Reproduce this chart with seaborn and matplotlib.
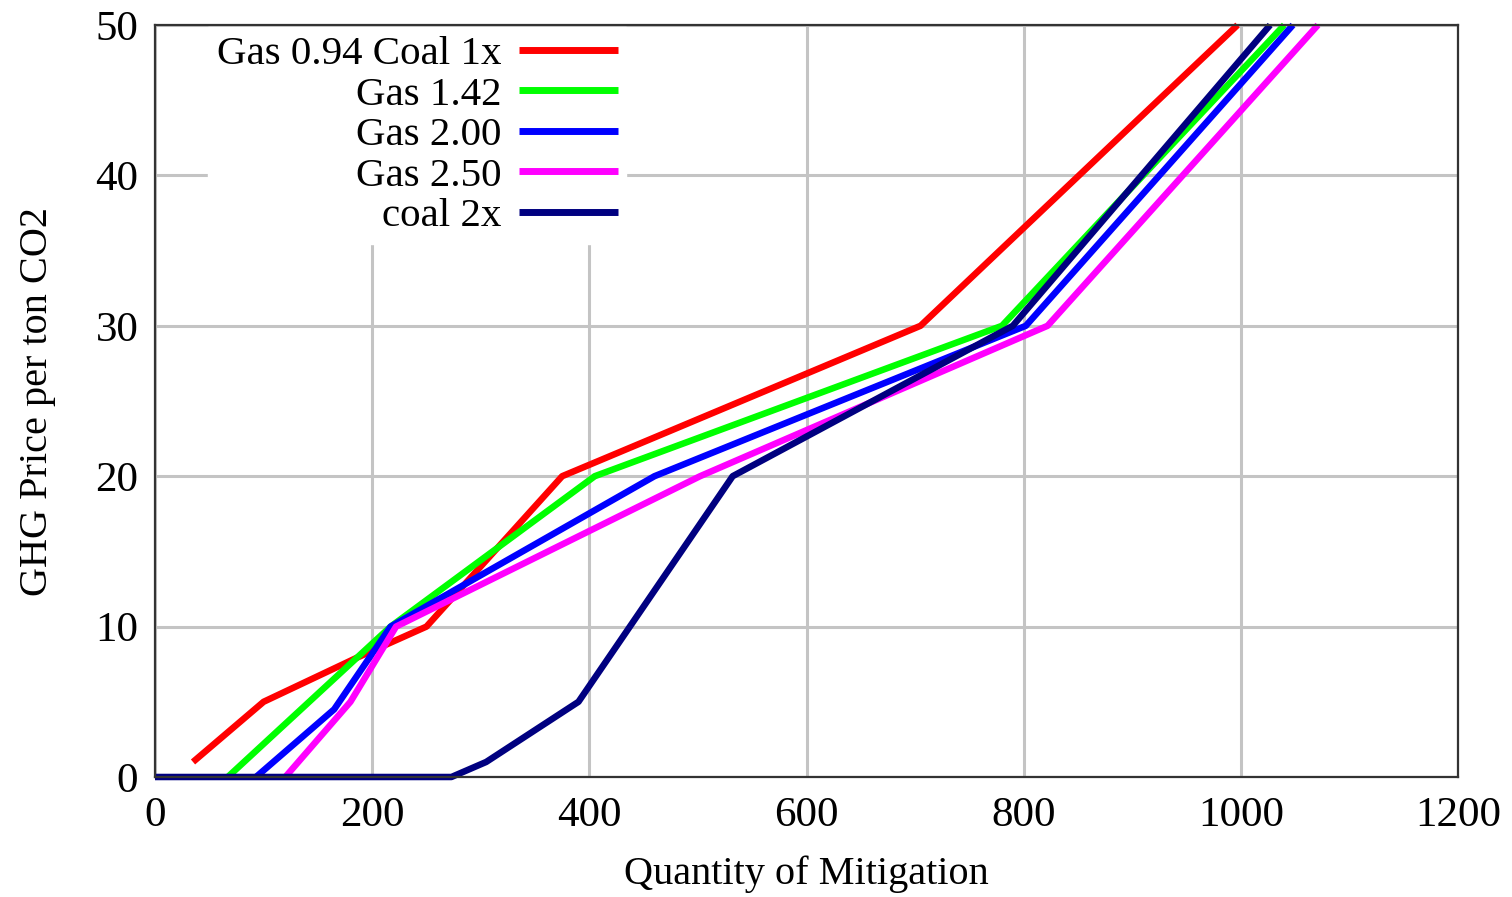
import matplotlib
matplotlib.use("Agg")
import matplotlib.pyplot as plt
import seaborn as sns
import pandas as pd

# ---- data ----
series_names = ["Gas 0.94 Coal 1x", "Gas 1.42", "Gas 2.00", "Gas 2.50", "coal 2x"]
series_colors = ["#ff0000", "#00ff00", "#0000ff", "#ff00ff", "#000080"]

red_x = [35, 100, 185, 250, 375, 705, 997]
red_y = [1, 5, 7.9, 10, 20, 30, 50]

green_x = [67, 217, 405, 780, 1040]
green_y = [0, 10, 20, 30, 50]

blue_x = [93, 165, 217, 460, 802, 1048]
blue_y = [0, 4.5, 10, 20, 30, 50]

magenta_x = [120, 180, 222, 502, 822, 1071]
magenta_y = [0, 5, 10, 20, 30, 50]

navy_x = [0, 273, 305, 390, 532, 790, 1027]
navy_y = [0, 0, 1, 5, 20, 30, 50]

x_ticks = [0, 200, 400, 600, 800, 1000, 1200]
y_ticks = [0, 10, 20, 30, 40, 50]

xs = [red_x, green_x, blue_x, magenta_x, navy_x]
ys = [red_y, green_y, blue_y, magenta_y, navy_y]
frames = []
for name, x, y in zip(series_names, xs, ys):
    frames.append(pd.DataFrame({"Quantity": x, "Price": y, "Series": name}))
df = pd.concat(frames, ignore_index=True)

sns.set_theme(style="white")
plt.rcParams["font.family"] = ["Liberation Serif", "DejaVu Serif"]
plt.rcParams["text.color"] = "black"
plt.rcParams["axes.labelcolor"] = "black"
plt.rcParams["xtick.color"] = "black"
plt.rcParams["ytick.color"] = "black"

fig = plt.figure(figsize=(15.12, 8.97), dpi=100)
ax = fig.add_axes([155/1512, 1-777/897, (1458-155)/1512, (777-25)/897])

sns.lineplot(data=df, x="Quantity", y="Price", hue="Series",
             hue_order=series_names,
             palette=dict(zip(series_names, series_colors)),
             linewidth=4.7, estimator=None, sort=False, ax=ax,
             solid_capstyle="butt", clip_on=False)

ax.set_xlim(0, 1200)
ax.set_ylim(0, 50)
ax.set_xticks(x_ticks)
ax.set_yticks(y_ticks)
ax.grid(True, color="#c4c4c4", linewidth=2.2)
ax.set_axisbelow(True)
for s in ax.spines.values():
    s.set_color("#333333")
    s.set_linewidth(1.6)
    s.set_visible(True)
ax.tick_params(axis="both", which="major", labelsize=31, direction="in",
               length=5, width=1.5, color="#222222", labelcolor="black", pad=12)
ax.tick_params(axis="x", pad=14)

ax.set_xlabel("Quantity of Mitigation", fontsize=29, labelpad=15, color="black")
ax.set_ylabel("GHG Price per ton CO2", fontsize=29, labelpad=28, color="black")

leg = ax.legend(loc="upper right", bbox_to_anchor=((626-155)/1303, 0.997),
                markerfirst=False, frameon=True, fancybox=False,
                edgecolor="white", facecolor="white", framealpha=1,
                fontsize=29.5, handlelength=2.4, handletextpad=0.45,
                labelspacing=0.07, borderpad=0.2, borderaxespad=0)
for line in leg.get_lines():
    line.set_linewidth(5)
for t in leg.get_texts():
    t.set_ha("right")
    t.set_color("black")
leg._legend_box.align = "right"

fig.savefig("out.png", dpi=100)
